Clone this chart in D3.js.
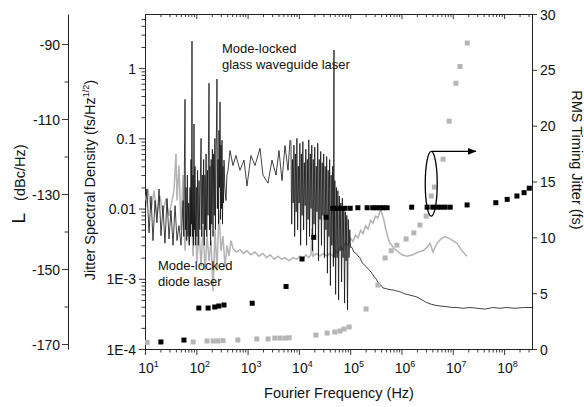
<!DOCTYPE html>
<html>
<head>
<meta charset="utf-8">
<script src="https://cdn.jsdelivr.net/npm/d3@7"></script>
<style>
  body { margin: 0; background: #fff; }
  svg { display: block; font-family: "Liberation Sans", Arial, sans-serif; }
</style>
</head>
<body>
<svg id="chart" width="584" height="407"></svg>
<script>
// Jitter spectral density, mode-locked glass waveguide laser [Hz, fs/Hz^1/2]
var glassJsd = [
  [10, 0.0079], [10.9, 0.019], [12.0, 0.0045], [13.1, 0.015], [14.3, 0.0035], [15.7, 0.013],
  [17.1, 0.0063], [18.8, 0.019], [20.5, 0.0041], [22.4, 0.011], [24.5, 0.0032], [26.9, 0.0139],
  [29.4, 0.0037], [32.1, 0.0094], [35.2, 0.0030], [38.5, 0.011], [42.1, 0.0035], [46.0, 0.0057],
  [50.4, 0.0030], [55.1, 0.013], [57, 0.004], [60.3, 0.36], [61.5, 0.005], [63, 0.02], [65, 0.0035],
  [67, 0.03], [69, 0.004], [71, 0.012], [73, 0.003], [75.4, 0.02], [77, 0.004], [78.8, 0.05],
  [80.5, 0.006], [82.4, 2.43], [84, 0.004], [86.3, 0.03], [88, 0.003], [90.2, 0.16], [92, 0.005],
  [94.3, 0.04], [97, 0.003], [100, 0.02], [103, 0.004], [106, 0.035], [109, 0.003], [113, 0.025],
  [117, 0.005], [121, 0.04], [124, 0.10], [127, 0.004], [131, 0.03], [135, 0.006], [139, 0.05],
  [143, 0.003], [147, 0.03], [151, 0.005], [155, 0.06], [160, 0.004], [165, 0.035], [169, 0.008],
  [173, 0.09], [177, 0.61], [181, 0.005], [185, 0.04], [190, 0.003], [195, 0.05], [200, 0.006],
  [206, 0.07], [212, 0.004], [218, 0.06], [224, 0.008], [230, 0.1], [236, 0.005], [242, 0.06],
  [248, 0.15], [253, 0.70], [258, 0.01], [265, 0.05], [271, 0.006], [277, 0.13], [283, 0.02],
  [290, 0.33], [297, 0.007], [303, 0.08], [310, 0.01], [317, 0.094], [324, 0.006], [331, 0.04],
  [339, 0.012], [347, 0.049], [360, 0.02], [379, 0.013], [395, 0.03], [415, 0.035], [454, 0.067],
  [519, 0.041], [594, 0.057], [711, 0.035], [851, 0.049], [973, 0.021], [1165, 0.057],
  [1394, 0.041], [1745, 0.072], [1995, 0.030], [2500, 0.023], [2990, 0.049], [3580, 0.030],
  [4090, 0.067], [4690, 0.025], [5360, 0.079], [6140, 0.035], [6710, 0.094],
  [7000, 0.09], [7240, 0.006], [7480, 0.05], [7740, 0.012], [8000, 0.08], [8270, 0.004],
  [8550, 0.06], [8840, 0.009], [9140, 0.1], [9450, 0.005], [9770, 0.04], [10100, 0.012],
  [10450, 0.085], [10800, 0.003], [11170, 0.06], [11550, 0.008], [11940, 0.09], [12350, 0.005],
  [12770, 0.045], [13200, 0.011], [13650, 0.07], [14110, 0.003], [14590, 0.05], [15090, 0.007],
  [15600, 0.095], [16130, 0.004], [16680, 0.06], [17250, 0.010], [17830, 0.08], [18440, 0.0025],
  [19070, 0.05], [19710, 0.006], [20380, 0.075], [21080, 0.004], [21790, 0.04], [22530, 0.009],
  [23300, 0.085], [24090, 0.0018], [24910, 0.05], [25760, 0.007], [26630, 0.065], [27540, 0.003],
  [28470, 0.045], [29440, 0.008], [30440, 0.06], [31480, 0.002], [32550, 0.04], [33650, 0.005],
  [34800, 0.055], [35980, 0.0012], [37200, 0.035], [38470, 0.004], [39780, 0.05], [41130, 0.0008],
  [42530, 0.03], [43970, 0.003], [45460, 0.04], [47010, 0.0015], [48300, 1.81], [48610, 0.002],
  [50260, 0.025], [51970, 0.0006], [53740, 0.02], [55560, 0.002], [57450, 0.018], [59400, 0.0005],
  [61420, 0.015], [63510, 0.0025], [65670, 0.012], [67900, 0.0009], [70210, 0.014], [72600, 0.002],
  [75060, 0.01], [77610, 0.00045], [80250, 0.009], [82980, 0.0018], [85800, 0.008], [88720, 0.00036],
  [91730, 0.007], [94850, 0.002], [98080, 0.005], [101400, 0.0028],
  [108000, 0.0028], [118000, 0.0024], [130000, 0.0023], [142000, 0.0021], [155000, 0.0020],
  [170000, 0.0017], [185000, 0.0016], [203000, 0.0015], [222000, 0.00139], [243000, 0.0013],
  [265000, 0.0012], [290000, 0.00108], [318000, 0.0010], [344000, 0.0009], [370000, 0.00085],
  [400000, 0.0008], [436000, 0.00074], [510000, 0.00072], [597000, 0.00070], [700000, 0.00069],
  [817000, 0.00067], [1.0e6, 0.00064], [1.17e6, 0.00061], [1.4e6, 0.00059], [1.68e6, 0.00057],
  [2.0e6, 0.00055], [2.30e6, 0.00052], [2.9e6, 0.00047], [3.60e6, 0.00044], [4.5e6, 0.00042],
  [5.63e6, 0.00041], [7.71e6, 0.00040], [1.0e7, 0.00039], [1.21e7, 0.00039], [1.6e7, 0.00038],
  [2.16e7, 0.00039], [3.0e7, 0.00038], [4.25e7, 0.00037], [6.0e7, 0.00039], [8.32e7, 0.00038],
  [1.1e8, 0.00039], [1.63e8, 0.00038], [2.4e8, 0.00039], [3.5e8, 0.00039]
];

// Jitter spectral density, mode-locked diode laser
var diodeJsd = [
  [10, 0.013], [11.4, 0.019], [13.1, 0.0094], [15.0, 0.018], [17.1, 0.0079], [19.6, 0.015],
  [22.4, 0.0088], [25.6, 0.0139], [29.4, 0.0079], [33.6, 0.013], [36.7, 0.018], [40.2, 0.061],
  [42.1, 0.013], [46.0, 0.041], [50.4, 0.0049], [55.1, 0.030], [60.3, 0.0025], [65.9, 0.013],
  [72.1, 0.0030], [78.8, 0.018], [86.3, 0.0021], [94.3, 0.0079], [103, 0.0018], [113, 0.0049],
  [124, 0.0015], [135, 0.0057], [148, 0.0013], [162, 0.0041], [177, 0.0018], [194, 0.0035],
  [212, 0.00067], [232, 0.0049], [253, 0.0013], [277, 0.0094], [303, 0.0025], [331, 0.0041],
  [363, 0.0015], [397, 0.0030], [434, 0.0021], [475, 0.0035], [519, 0.0027], [600, 0.0024],
  [711, 0.0026], [830, 0.0023], [973, 0.0025], [1150, 0.0022], [1394, 0.0024], [1650, 0.0021],
  [1995, 0.0023], [2350, 0.0020], [2740, 0.0022], [3300, 0.0019], [3920, 0.0021], [4600, 0.0019],
  [5360, 0.0020], [6400, 0.0018], [7670, 0.0020], [9000, 0.0019], [10500, 0.0021], [12000, 0.0019],
  [13700, 0.0022], [15500, 0.0020], [17200, 0.0022], [18000, 0.0052], [18800, 0.0021],
  [22000, 0.0023], [25800, 0.0021], [30000, 0.0023], [35300, 0.0021], [40000, 0.0023],
  [46200, 0.0021], [52000, 0.0025], [57800, 0.0023], [65000, 0.0029], [72400, 0.0026],
  [81000, 0.0033], [90600, 0.0030], [101000, 0.0038], [113000, 0.0034], [127000, 0.0042],
  [142000, 0.0038], [160000, 0.0049], [178000, 0.0044], [200000, 0.0057], [222000, 0.0051],
  [250000, 0.0068], [278000, 0.0062], [310000, 0.0078], [348000, 0.0074], [380000, 0.0092],
  [398000, 0.0094], [425000, 0.0080], [456000, 0.0068], [490000, 0.0052], [521000, 0.0044],
  [560000, 0.0036], [597000, 0.0032], [650000, 0.0030], [714000, 0.0027], [817000, 0.0025],
  [1.02e6, 0.0022], [1.28e6, 0.0021], [1.68e6, 0.0022], [2.10e6, 0.0024], [2.62e6, 0.0025],
  [3.14e6, 0.0028], [3.60e6, 0.0032], [4.11e6, 0.0024], [4.92e6, 0.0032], [5.89e6, 0.0037],
  [7.05e6, 0.0040], [8.81e6, 0.0037], [1.21e7, 0.0032], [1.51e7, 0.0025], [1.89e7, 0.0021]
];

// Integrated RMS timing jitter [Hz, fs]
var glassRms = [
  [20.4, 0.63], [57.5, 0.8], [112, 3.67], [170, 3.67], [229, 3.76], [275, 3.85], [347, 3.94],
  [1230, 4.1], [5620, 5.6], [11500, 8.06], [19500, 10.0], [33900, 11.8],
  [45700, 12.6], [55000, 12.6], [66000, 12.6], [79400, 12.6], [100000, 12.6],
  [141000, 12.65], [214000, 12.65], [275000, 12.65], [316000, 12.65], [380000, 12.65], [437000, 12.65], [525000, 12.65],
  [1.58e6, 12.7], [3.16e6, 12.7], [4.07e6, 12.7], [4.9e6, 12.7], [5.9e6, 12.7], [7.1e6, 12.7], [8.9e6, 12.7],
  [1.9e7, 12.9], [6.9e7, 13.1], [1.15e8, 13.4], [1.78e8, 13.7], [2.45e8, 14.0], [3.1e8, 14.4]
];

var diodeRms = [
  [11, 0.6], [87, 0.63], [162, 0.72], [214, 0.72], [263, 0.72], [331, 0.75], [646, 0.81],
  [1510, 0.9], [2510, 0.9], [3390, 0.98], [4270, 0.98], [5370, 0.98], [6460, 1.0],
  [21400, 1.25], [35500, 1.43], [50100, 1.52], [63100, 1.61], [75900, 1.79], [95500, 1.97],
  [204000, 3.58], [347000, 5.73], [479000, 8.15], [631000, 8.8], [813000, 9.3], [1.23e6, 9.85],
  [1.74e6, 10.4], [2.29e6, 11.1], [3.02e6, 11.9], [3.8e6, 13.7], [4.37e6, 14.5], [6.46e6, 17.0],
  [8.51e6, 20.4], [1.15e7, 23.8], [1.38e7, 25.3], [1.91e7, 27.4]
];

var jsdLabels = { 1e-4: '1E-4', 1e-3: '1E-3', 1e-2: '0.01', 1e-1: '0.1', 1: '1' };
var rmsTicks = [0, 5, 10, 15, 20, 25, 30];
var lTicks = [-170, -160, -150, -140, -130, -120, -110, -100, -90];
var lLabelled = [-170, -150, -130, -110, -90];

var svg = d3.select('#chart');
var mLeft = 145, mRight = 532, mTop = 14, mBottom = 349;

var x = d3.scaleLog().domain([10, 3.5e8]).range([mLeft, mRight]);
var yJ = d3.scaleLog().domain([1e-4, 5.9]).range([mBottom, mTop]);
var yR = d3.scaleLinear().domain([0, 30]).range([mBottom, mTop]);
var yL = d3.scaleLinear().domain([-171.33, -82]).range([mBottom, mTop]);

function isPow10(v) {
  var e = Math.log10(v);
  return Math.abs(e - Math.round(e)) < 1e-6;
}

var xTicks = [];
for (var e = 1; e <= 8; e++) {
  for (var m = 1; m <= 9; m++) {
    var v = m * Math.pow(10, e);
    if (v <= 3.5e8) xTicks.push(v);
  }
}
var jTicks = [];
for (var e = -4; e <= 0; e++) {
  for (var m = 1; m <= 9; m++) {
    var v = m * Math.pow(10, e);
    if (v <= 5.9) jTicks.push(v);
  }
}

var axisColor = '#222';

function styleAxis(g) {
  g.selectAll('path.domain').attr('stroke', axisColor).attr('stroke-width', 1);
  g.selectAll('.tick line').attr('stroke', axisColor).attr('stroke-width', 0.9);
  g.selectAll('.tick text')
    .attr('font-family', '"Liberation Sans", Arial, sans-serif')
    .attr('font-size', 14)
    .attr('fill', '#111');
}

// bottom axis
var gx = svg.append('g')
  .attr('transform', `translate(0,${mBottom})`)
  .call(d3.axisBottom(x).tickValues(xTicks).tickSizeOuter(0).tickFormat(''))
gx.selectAll('.tick line').attr('y2', (d) => (isPow10(d) ? 6 : 3.5))
styleAxis(gx)
gx.selectAll('.tick')
  .filter((d) => isPow10(d))
  .append('text')
  .attr('y', 24)
  .attr('text-anchor', 'middle')
  .attr('font-size', 14)
  .attr('fill', '#111')
  .attr('dx', 3)
  .call((t) => {
    t.append('tspan').text('10')
    t.append('tspan')
      .attr('font-size', 9)
      .attr('dy', -6)
      .text((d) => Math.round(Math.log10(d)))
  })

// top axis (ticks inward)
var gt = svg.append('g')
  .attr('transform', `translate(0,${mTop})`)
  .call(d3.axisBottom(x).tickValues(xTicks).tickSizeOuter(0).tickFormat(''))
gt.selectAll('.tick line').attr('y2', (d) => (isPow10(d) ? 5 : 3))
styleAxis(gt)

// left JSD axis
var gj = svg.append('g')
  .attr('transform', `translate(${mLeft},0)`)
  .call(
    d3.axisLeft(yJ).tickValues(jTicks).tickSizeOuter(0)
      .tickFormat((d) => jsdLabels[d] || '')
  )
gj.selectAll('.tick line').attr('x2', (d) => (jsdLabels[d] ? -6 : -3.5))
styleAxis(gj)
gj.selectAll('.tick text').attr('x', -9).attr('dy', '0.36em')

// right RMS axis
var gr = svg.append('g')
  .attr('transform', `translate(${mRight},0)`)
  .call(d3.axisRight(yR).tickValues(rmsTicks).tickSize(5).tickSizeOuter(0))
styleAxis(gr)
gr.selectAll('.tick text').attr('x', 8).attr('dy', '0.36em')

// L axis
var gl = svg.append('g')
  .attr('transform', 'translate(68,0)')
  .call(
    d3.axisLeft(yL).tickValues(lTicks).tickSizeOuter(0)
      .tickFormat((d) => (lLabelled.indexOf(d) >= 0 ? d : ''))
  )
gl.selectAll('.tick line').attr('x2', (d) => (lLabelled.indexOf(d) >= 0 ? -6 : -3.5))
styleAxis(gl)
gl.selectAll('.tick text').attr('x', -8).attr('dy', '0.36em')

// axis titles
svg.append('text')
  .attr('x', 339).attr('y', 398)
  .attr('text-anchor', 'middle')
  .attr('font-size', 14.5)
  .attr('fill', '#111')
  .text('Fourier Frequency (Hz)')

var jt = svg.append('text')
  .attr('transform', 'translate(95,180) rotate(-90)')
  .attr('text-anchor', 'middle')
  .attr('font-size', 14.5)
  .attr('fill', '#111')
jt.append('tspan').text('Jitter Spectral Density (fs/Hz')
jt.append('tspan').attr('font-size', 9).attr('dy', -6).text('1/2')
jt.append('tspan').attr('dy', 6).text(')')

var lt = svg.append('text')
  .attr('transform', 'translate(25,184) rotate(-90)')
  .attr('text-anchor', 'middle')
  .attr('fill', '#111')
lt.append('tspan').attr('font-size', 19).text('L')
lt.append('tspan').attr('font-size', 14.5).attr('dx', 12).text('(dBc/Hz)')

svg.append('text')
  .attr('transform', 'translate(572,160) rotate(90)')
  .attr('text-anchor', 'middle')
  .attr('font-size', 14.5)
  .attr('fill', '#111')
  .text('RMS Timing Jitter (fs)')

// traces
svg.append('clipPath').attr('id', 'plotclip')
  .append('rect')
  .attr('x', mLeft).attr('y', mTop)
  .attr('width', mRight - mLeft).attr('height', mBottom - mTop)

var plot = svg.append('g').attr('clip-path', 'url(#plotclip)')

var line = d3.line()
  .x((d) => x(d[0]))
  .y((d) => yJ(d[1]))

plot.append('path')
  .datum(diodeJsd)
  .attr('fill', 'none')
  .attr('stroke', '#b3b3b3')
  .attr('stroke-width', 1.5)
  .attr('d', line)

plot.append('path')
  .datum(glassJsd)
  .attr('fill', 'none')
  .attr('stroke', '#111')
  .attr('stroke-width', 0.8)
  .attr('d', line)

var sq = 5
plot.selectAll('.sq-diode')
  .data(diodeRms)
  .enter()
  .append('rect')
  .attr('class', 'sq-diode')
  .attr('x', (d) => x(d[0]) - sq / 2)
  .attr('y', (d) => yR(d[1]) - sq / 2)
  .attr('width', sq).attr('height', sq)
  .attr('fill', '#b5b5b5')

plot.selectAll('.sq-glass')
  .data(glassRms)
  .enter()
  .append('rect')
  .attr('class', 'sq-glass')
  .attr('x', (d) => x(d[0]) - sq / 2)
  .attr('y', (d) => yR(d[1]) - sq / 2)
  .attr('width', sq).attr('height', sq)
  .attr('fill', '#000')

// annotations
svg.append('text')
  .attr('x', 222).attr('y', 53)
  .attr('font-size', 13)
  .attr('fill', '#111')
  .call((t) => {
    t.append('tspan').text('Mode-locked')
    t.append('tspan').attr('x', 222).attr('dy', 15.5).text('glass waveguide laser')
  })

svg.append('text')
  .attr('x', 158).attr('y', 270)
  .attr('font-size', 13)
  .attr('fill', '#111')
  .call((t) => {
    t.append('tspan').text('Mode-locked')
    t.append('tspan').attr('x', 158).attr('dy', 15.5).text('diode laser')
  })

// ellipse around the RMS points with arrow towards the right axis
var ex = x(3.8e6), eyTop = yR(17.7), eyBot = yR(11.9)
svg.append('ellipse')
  .attr('cx', ex).attr('cy', (eyTop + eyBot) / 2)
  .attr('rx', 6).attr('ry', (eyBot - eyTop) / 2)
  .attr('fill', 'none')
  .attr('stroke', '#000')
  .attr('stroke-width', 1.3)

svg.append('defs').append('marker')
  .attr('id', 'arrow')
  .attr('viewBox', '0 0 10 10')
  .attr('refX', 9).attr('refY', 5)
  .attr('markerWidth', 7).attr('markerHeight', 7)
  .attr('orient', 'auto')
  .append('path')
  .attr('d', 'M0,1 L10,5 L0,9 Z')
  .attr('fill', '#000')

svg.append('line')
  .attr('x1', ex).attr('y1', eyTop)
  .attr('x2', x(2.8e7)).attr('y2', eyTop)
  .attr('stroke', '#000')
  .attr('stroke-width', 1.3)
  .attr('marker-end', 'url(#arrow)')
</script>
</body>
</html>
